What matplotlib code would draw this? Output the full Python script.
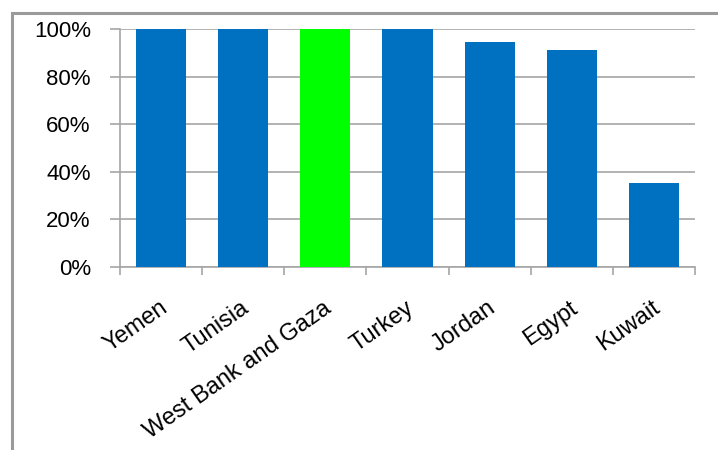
import matplotlib.pyplot as plt
from matplotlib.patches import Rectangle
from matplotlib.ticker import PercentFormatter
from matplotlib.transforms import ScaledTranslation

paises = ['Yemen', 'Tunisia', 'West Bank and Gaza', 'Turkey', 'Jordan', 'Egypt', 'Kuwait']
valores = [100, 100, 100, 100, 94.5, 91, 35.5]
colores = ['#0070C0', '#0070C0', '#00FF00', '#0070C0', '#0070C0', '#0070C0', '#0070C0']

plt.rcParams['font.family'] = ['Liberation Sans', 'DejaVu Sans']

fig = plt.figure(figsize=(7.18, 4.5), dpi=100)
W, H = 718, 450
ax = fig.add_axes([120 / W, 1 - 267 / H, 575 / W, 238 / H])

# Marco exterior del gráfico
fig.patches.append(Rectangle((12 / W, -0.05), 1.1, 1 - 13 / H + 0.05,
                             transform=fig.transFigure, fill=False,
                             edgecolor='#9a9a9a', linewidth=2.2))

x = range(len(paises))
ax.bar(x, valores, width=0.61, color=colores, zorder=3)

ax.set_xlim(-0.5, len(paises) - 0.5)
ax.set_ylim(0, 100)
ax.set_yticks([0, 20, 40, 60, 80, 100])
ax.yaxis.set_major_formatter(PercentFormatter(decimals=0))
ax.grid(axis='y', color='#a6a6a6', linewidth=1.2, zorder=0)

# Marcas entre categorías en el eje X
ax.set_xticks([i - 0.5 for i in range(len(paises) + 1)])
ax.set_xticklabels([])
ax.set_xticks(list(x), minor=True)
ax.set_xticklabels(paises, minor=True, rotation=35, ha='right', va='center',
                   rotation_mode='anchor', fontsize=17)
ax.tick_params(axis='x', which='minor', length=0, pad=28)
ax.tick_params(axis='x', which='major', length=6, color='#a6a6a6', width=1.2)
ax.tick_params(axis='y', length=7, color='#a6a6a6', width=1.2, labelsize=16, pad=14)

desplazamiento = ScaledTranslation(4 / 100, 0, fig.dpi_scale_trans)
for etiqueta in ax.get_xticklabels(minor=True):
    etiqueta.set_transform(etiqueta.get_transform() + desplazamiento)

for lado in ['top', 'right']:
    ax.spines[lado].set_visible(False)
for lado in ['left', 'bottom']:
    ax.spines[lado].set_color('#a6a6a6')
    ax.spines[lado].set_linewidth(1.2)

plt.savefig('out.png', dpi=100)
